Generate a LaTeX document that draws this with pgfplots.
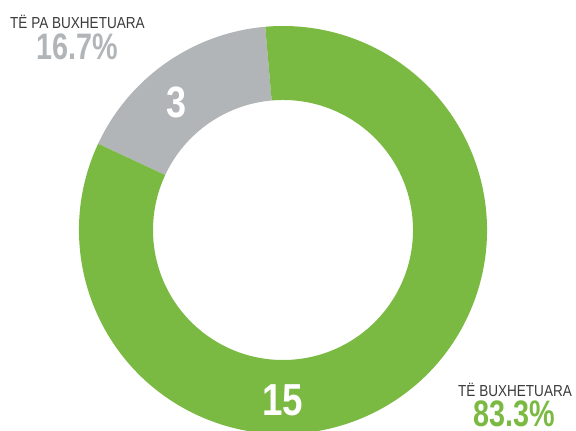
\documentclass[border=0pt]{standalone}
\usepackage{fontspec}
\setmainfont{Liberation Sans}
\newfontfamily\condfont[FakeStretch=0.82]{Liberation Sans}
\newfontfamily\pctfont[FakeStretch=0.78]{Liberation Sans}
\newfontfamily\labelfont[FakeStretch=0.85]{Liberation Sans}
\usepackage{pgfplots}
\pgfplotsset{compat=1.18}

\definecolor{budgeted}{HTML}{7AB942}
\definecolor{unbudgeted}{HTML}{B1B5B8}
\definecolor{labeltext}{HTML}{3A3A3A}

% values of the two segments
\def\valBudgeted{15}
\def\valUnbudgeted{3}

\begin{document}
\begin{tikzpicture}
\pgfmathsetmacro\total{\valBudgeted+\valUnbudgeted}
\pgfmathsetmacro\angA{95}
\pgfmathsetmacro\angB{\angA+360*\valUnbudgeted/\total}
\pgfmathsetmacro\angC{\angB+360*\valBudgeted/\total}
\def\Ro{204bp}
\def\Ri{130bp}
\begin{axis}[
    width=576bp, height=431bp,
    scale only axis,
    xmin=0, xmax=576,
    ymin=-431, ymax=0,
    hide axis,
]
\path (rel axis cs:0,0) rectangle (rel axis cs:1,1);

% unbudgeted segment
\fill[unbudgeted] ([shift={(\angA:\Ro)}]axis cs:283,-230)
    arc[start angle=\angA, end angle=\angB, radius=\Ro]
    -- ([shift={(\angB:\Ri)}]axis cs:283,-230)
    arc[start angle=\angB, end angle=\angA, radius=\Ri] -- cycle;

% budgeted segment
\fill[budgeted] ([shift={(\angB:\Ro)}]axis cs:283,-230)
    arc[start angle=\angB, end angle=\angC, radius=\Ro]
    -- ([shift={(\angC:\Ri)}]axis cs:283,-230)
    arc[start angle=\angC, end angle=\angB, radius=\Ri] -- cycle;

% values in the ring
\node[anchor=base, white, font=\condfont\bfseries\fontsize{44}{48}\selectfont, inner sep=0pt]
    at (axis cs:176,-118) {\valUnbudgeted};
\node[anchor=base, white, font=\condfont\bfseries\fontsize{45}{48}\selectfont, inner sep=0pt]
    at (axis cs:283,-415) {\valBudgeted};

% outside labels
\node[anchor=base west, labeltext, font=\labelfont\fontsize{16}{18}\selectfont, inner sep=0pt]
    at (axis cs:10,-29) {TË PA BUXHETUARA};
\node[anchor=base west, unbudgeted, font=\pctfont\bfseries\fontsize{37}{40}\selectfont, inner sep=0pt]
    at (axis cs:36,-60) {16.7\%};
\node[anchor=base west, labeltext, font=\labelfont\fontsize{16}{18}\selectfont, inner sep=0pt]
    at (axis cs:458,-397) {TË BUXHETUARA};
\node[anchor=base west, budgeted, font=\pctfont\bfseries\fontsize{37}{40}\selectfont, inner sep=0pt]
    at (axis cs:473,-426) {83.3\%};
\end{axis}
\end{tikzpicture}
\end{document}
